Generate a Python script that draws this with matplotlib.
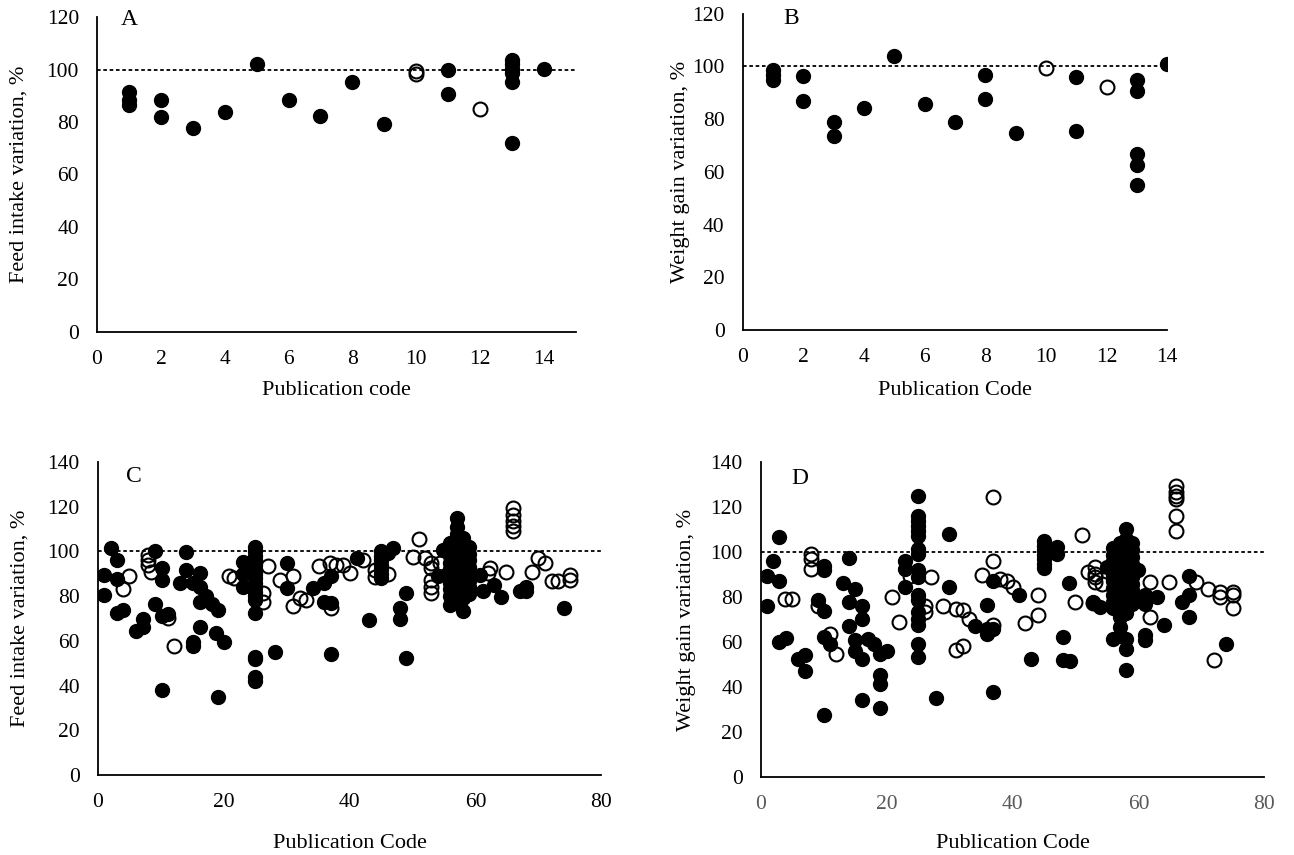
import matplotlib
matplotlib.use("Agg")
import matplotlib.pyplot as plt

plt.rcParams['font.family'] = ['Liberation Serif', 'DejaVu Serif']
plt.rcParams['font.size'] = 15

# ---- panel A: feed intake, publications 1-14
a_fill_x = [1, 1, 1, 2, 2, 3, 4, 5, 6, 7, 8, 9, 11, 11, 13, 13, 13, 13, 13, 13, 14]
a_fill_y = [91.6, 88.2, 86.5, 88.5, 81.8, 77.8, 83.9, 102.0, 88.3, 82.4, 95.2, 79.4,
            100.0, 90.6, 103.7, 102.2, 100.3, 98.6, 95.2, 71.8, 100.3]
a_open_x = [10, 10, 12]
a_open_y = [99.5, 98.3, 84.8]

# ---- panel B: weight gain, publications 1-14
b_fill_x = [1, 1, 1, 2, 2, 3, 3, 4, 5, 6, 7, 8, 8, 9, 11, 11, 13, 13, 13, 13, 13, 14]
b_fill_y = [98.7, 96.8, 94.9, 96.2, 86.7, 78.9, 73.6, 84.1, 103.8, 85.6, 78.8, 96.6,
            87.7, 74.6, 96.0, 75.6, 94.7, 90.6, 66.7, 62.7, 55.1, 101.0]
b_open_x = [10, 12]
b_open_y = [99.5, 92.2]

# ---- panel C: feed intake, all publications
c_fill_x = [2, 3, 1, 1, 3, 3, 4, 6.1, 7.2, 7.2, 9, 9, 10.1, 10.1, 10.1, 11.1, 10.1,
            14, 14, 13, 15.1, 16.2, 16.2, 15.1, 15.1, 16.2, 17.2, 16.2, 18.2, 19.1,
            18.8, 20.1, 19.1, 23, 23, 23,
            25, 25, 25, 25, 25, 25, 25, 25, 25, 25, 25, 25, 25, 25, 25, 25, 25, 25,
            28.1, 30.1, 30.1, 34.1, 36, 36, 37.1, 37.1, 37.1, 41.1, 43,
            45, 45, 45, 45, 45, 45, 45,
            46.9, 46.1, 48, 48, 49, 49, 54, 54.8,
            57, 57, 57, 57, 57, 57, 57, 57, 57, 57, 57, 57, 57,
            58, 58, 58, 58, 58, 58, 58, 58, 58, 58, 58,
            56, 56, 56, 56, 56, 56, 56, 56, 56, 56,
            59, 59, 59, 59, 59, 59, 59, 59,
            60.7, 61.2, 63, 64.1, 67, 68.1, 68.1, 74.1]
c_fill_y = [101.5, 96, 89.4, 80.4, 87.6, 72.4, 73.9, 64.6, 66.4, 70, 100.4, 76.3, 92.8,
            87.3, 70.9, 72.1, 37.8,
            99.6, 91.5, 86.1, 85.8, 90.3, 84.3, 59.7, 57.8, 66.4, 79.9, 77.2, 76.6, 73.6,
            63.4, 59.7, 35.1, 95.5, 84.3, 90,
            102, 100, 98, 96, 94, 92, 90, 88, 86, 84, 82, 80, 78.5, 72.5, 53, 52, 44, 42,
            54.9, 94.8, 83.6, 83.6, 85.8, 77.6, 88.8, 76.9, 54, 97, 69.4,
            100, 98, 96, 94, 92, 90, 88,
            101.5, 99.3, 69.9, 74.9, 81.3, 52.5, 88.8, 100.7,
            115, 111, 108, 105, 102, 99, 96, 93, 90, 87, 84, 81, 78,
            106, 103, 100, 97, 94, 91, 88, 85, 82, 79, 73.5,
            104, 101, 98, 95, 92, 89, 86, 83, 80, 76,
            102, 99, 96, 93, 90, 87, 84, 81,
            89.6, 82.1, 85, 79.4, 82.5, 84.3, 82.1, 74.6]
c_open_x = [5, 4, 8, 8, 8, 8.5, 11.1, 12.1, 20.9, 21.7, 27, 26.2, 26.2, 28.9, 31, 31,
            32.1, 33.1, 35.1, 36.8, 37.9, 39, 40, 42.1, 37.1, 44, 44, 46.1, 51, 50.1,
            51.9, 53, 53, 53, 53, 53, 54.3, 62.3, 62, 64.9, 66, 66, 66, 66, 66, 69,
            69.9, 71, 72.1, 73.1, 75, 75]
c_open_y = [88.8, 83.3, 98.5, 96.3, 94, 91, 70.1, 57.9, 88.8, 88, 93.3, 81.3, 77.6, 87.3,
            88.8, 75.4, 79.1, 78.4, 93.6, 94.8, 94, 94, 90.3, 96.3, 74.6, 91.8, 88.4,
            89.9, 105.5, 97.3, 97, 94.8, 92.5, 87.3, 84.3, 81.3, 94.8, 92.5, 90.3, 90.7,
            119.4, 116.4, 113.4, 111.2, 109, 90.7, 97, 94.8, 86.6, 86.6, 89.6, 87.3]

# ---- panel D: weight gain, all publications
d_fill_x = [2.9, 2, 1, 2.9, 1, 2.9, 4, 5.9, 7, 7, 10.1, 10.1, 9, 10.1, 10.1, 11, 10.1,
            14, 13, 15, 14, 16, 16, 14, 15, 15, 16, 17.1, 18, 18.9, 20, 18.9, 18.9, 16,
            18.9,
            25, 25, 25, 25, 25, 25, 25, 25, 25, 25, 25, 25, 25, 25, 25, 25, 25,
            22.9, 22.9, 22.9, 27.9, 29.9, 29.9, 36, 36, 36, 36.9, 36.9, 36.9, 34, 41.1, 43,
            45, 45, 45, 45, 45, 45, 45,
            47, 47, 48, 48, 49.1, 49, 53.9, 52.8, 55,
            58, 58, 58, 58, 58, 58, 58, 58, 58, 58, 58, 58, 58, 58, 58, 58,
            57, 57, 57, 57, 57, 57, 57, 57, 57, 57, 57, 57, 57,
            56, 56, 56, 56, 56, 56, 56, 56, 56, 56, 56,
            59, 59, 59, 59, 59, 59, 59, 59, 59, 59,
            60, 61, 61, 61, 61, 62.9, 64, 68, 68, 67, 68, 73.9]
d_fill_y = [106.7, 96.3, 89.6, 87.4, 76, 60.1, 61.8, 52.4, 54.1, 47.2, 94.1, 91.9, 78.6,
            73.7, 62.3, 59.3, 27.4,
            97.5, 86.2, 83.7, 77.8, 76.3, 70.4, 67.2, 60.8, 56, 52.7, 61.5, 59.3, 54.9, 56,
            45.6, 41.6, 34.2, 30.8,
            125, 116.3, 114.1, 111.8, 109.6, 107.4, 101.5, 99.3, 91.9, 88.9, 80.8, 78.6,
            73.4, 70.5, 67.5, 59.3, 53.4,
            96.3, 92.6, 84.5, 35, 108, 84.7, 76.6, 66, 63.5, 66, 37.9, 87.4, 67, 80.8, 52.7,
            105, 103, 101, 99, 97, 95, 93,
            102.2, 99.3, 62.3, 52.2, 51.6, 86.2, 75.6, 77.8, 93.6,
            110.4, 106, 103, 100, 97, 94, 91, 88, 85, 82, 79, 76, 73, 61.5, 57, 47.5,
            104, 101, 98, 95, 92, 89, 86, 83, 80, 77, 74, 71, 66.7,
            102, 99, 96, 93, 90, 87, 84, 81, 78, 75, 61.5,
            104, 101, 98, 95, 92, 89, 86, 83, 80, 77,
            91.9, 80.8, 77.1, 63, 60.8, 80, 67.5, 89.6, 80.8, 77.8, 71.4, 59.3]
d_open_x = [3.8, 4.9, 7.9, 7.9, 7.9, 9, 11, 12, 20.9, 22, 23.7, 27, 26.1, 26.1, 29, 31,
            32.1, 33, 31, 32.1, 35.1, 36.9, 36.9, 36.9, 38, 39.1, 40, 44, 44, 42, 49.9,
            51, 52, 53.1, 53.1, 53.1, 53.1, 54.2, 52.8, 61.8, 61.8, 64.8, 65.9, 65.9,
            65.9, 65.9, 65.9, 65.9, 69.1, 71, 73, 73, 75, 75, 75, 72]
d_open_y = [79.3, 79.3, 99.3, 97, 92.6, 76.3, 63.8, 54.9, 80, 68.9, 89.6, 88.9, 76, 73.4,
            76.3, 74.9, 74.1, 70.4, 56.7, 58.1, 89.9, 96, 124.4, 67.8, 88.2, 87.4, 84.5,
            80.8, 72.3, 68.5, 77.8, 107.8, 91.1, 93.3, 90.4, 88.9, 86.7, 85.9, 77.4, 86.7,
            71.2, 86.7, 129.3, 126.6, 125.1, 123.7, 116.3, 109.3, 86.7, 83.7, 82.2, 80,
            82.2, 80.8, 75.1, 51.9]

fig = plt.figure(figsize=(12.94, 8.55), dpi=100)

panels = [
    ([0.075, 0.612, 0.370, 0.368], a_fill_x, a_fill_y, a_open_x, a_open_y,
     "A", (1.0, 119), 15, 14, 2, 120, "Publication code", "Feed intake variation, %",
     (-0.144, -0.156)),
    ([0.574, 0.614, 0.328, 0.370], b_fill_x, b_fill_y, b_open_x, b_open_y,
     "B", (1.6, 118), 14, 14, 2, 120, "Publication Code", "Weight gain variation, %",
     (-0.125, -0.161)),
    ([0.0757, 0.0936, 0.389, 0.366], c_fill_x, c_fill_y, c_open_x, c_open_y,
     "C", (5.7, 133.5), 80, 80, 20, 140, "Publication Code", "Feed intake variation, %",
     (-0.135, -0.188)),
    ([0.588, 0.0912, 0.389, 0.368], d_fill_x, d_fill_y, d_open_x, d_open_y,
     "D", (6.2, 133), 80, 80, 20, 140, "Publication Code", "Weight gain variation, %",
     (-0.129, -0.181)),
]

for rect, fx, fy, ox, oy, letter, lpos, xmax, xtmax, xstep, ymax, xlab, ylab, lab_xy in panels:
    ax = fig.add_axes(rect)
    ax.axhline(100, color='black', linestyle=(0, (2, 1.5)), linewidth=1.3, zorder=1)
    ax.plot(ox, oy, 'o', markerfacecolor='none', markeredgecolor='black',
            markeredgewidth=1.5, markersize=10, linestyle='none', zorder=2)
    ax.plot(fx, fy, 'o', color='black', markersize=10, linestyle='none', zorder=3)
    ax.set_xlim(0, xmax)
    ax.set_ylim(0, ymax)
    ax.set_xticks(range(0, xtmax + 1, xstep))
    ax.set_yticks(range(0, ymax + 1, 20))
    ax.spines['top'].set_visible(False)
    ax.spines['right'].set_visible(False)
    ax.spines['left'].set_linewidth(1.3)
    ax.spines['bottom'].set_linewidth(1.3)
    ax.tick_params(axis='both', length=0, labelsize=15.5)
    ax.tick_params(axis='y', pad=13)
    ax.tick_params(axis='x', pad=13)
    if letter == "D":
        ax.tick_params(axis='x', labelcolor='#595959')
    ax.set_xlabel(xlab, fontsize=16)
    ax.set_ylabel(ylab, fontsize=16)
    ax.yaxis.set_label_coords(lab_xy[0], 0.5)
    ax.xaxis.set_label_coords(0.5, lab_xy[1])
    ax.text(lpos[0], lpos[1], letter, fontsize=17, ha='center', va='center')

fig.savefig("out.png", dpi=100)
